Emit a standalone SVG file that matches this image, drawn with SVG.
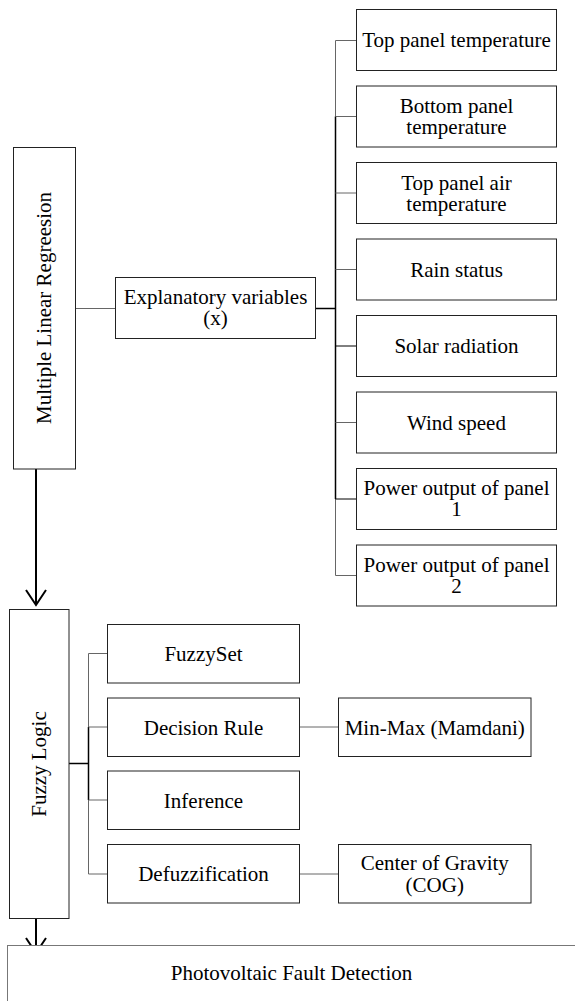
<svg xmlns="http://www.w3.org/2000/svg" width="575" height="1001" viewBox="0 0 575 1001">
<style>
.box{fill:#fff;stroke:#222;stroke-width:1}
.t{font-family:"Liberation Serif","Times New Roman",serif;font-size:21px;fill:#000;text-anchor:middle}
.c{fill:none;stroke:#666;stroke-width:1}
.k{fill:none;stroke:#000;stroke-width:1.5}
.a{fill:none;stroke:#000;stroke-width:2}
</style>
<rect width="575" height="1001" fill="#fff"/>
<g id="connectors">
<line class="c" x1="75.5" y1="308.5" x2="115.5" y2="308.5"/>
<line class="k" x1="315.5" y1="308.5" x2="336" y2="308.5"/>
<polyline class="c" points="356.5,40.5 335.5,40.5 335.5,575.5 356.5,575.5"/>
<line class="k" x1="335.5" y1="116.5" x2="335.5" y2="499"/>
<line class="c" x1="335.5" y1="116.5" x2="356.5" y2="116.5"/>
<line class="c" x1="335.5" y1="193" x2="356.5" y2="193"/>
<line class="c" x1="335.5" y1="269.5" x2="356.5" y2="269.5"/>
<line class="k" x1="335.5" y1="346" x2="356.5" y2="346" style="stroke-width:1"/>
<line class="c" x1="335.5" y1="422.5" x2="356.5" y2="422.5"/>
<line class="k" x1="335.5" y1="499" x2="356.5" y2="499" style="stroke-width:1"/>
<line class="k" x1="69" y1="763.5" x2="88.5" y2="763.5"/>
<polyline class="c" points="107.5,653.5 88.5,653.5 88.5,874 107.5,874"/>
<line class="k" x1="88.5" y1="727" x2="88.5" y2="800"/>
<line class="c" x1="88.5" y1="727" x2="107.5" y2="727"/>
<line class="c" x1="88.5" y1="800" x2="107.5" y2="800"/>
<line class="c" x1="299.5" y1="727" x2="338.5" y2="727"/>
<line class="c" x1="299.5" y1="874" x2="338.5" y2="874"/>
<line class="a" x1="36" y1="469" x2="36" y2="604"/>
<polyline class="a" points="26,590 36,605 46,590"/>
<line class="a" x1="36" y1="918.5" x2="36" y2="952"/>
<polyline class="a" points="26,938 36,953 46,938"/>
</g>
<g id="mlr">
<rect class="box" x="13.5" y="147.5" width="62" height="321.5"/>
<text class="t" transform="translate(50.5,308) rotate(-90)">Multiple Linear Regreesion</text>
</g>
<g id="explanatory">
<rect class="box" x="115.5" y="277.5" width="200" height="61"/>
<text class="t" x="215.5" y="303.5">Explanatory variables</text>
<text class="t" x="215.5" y="324.5">(x)</text>
</g>
<g id="v1"><rect class="box" x="356.5" y="9.5" width="200" height="61"/><text class="t" x="456.5" y="47">Top panel temperature</text></g>
<g id="v2"><rect class="box" x="356.5" y="86" width="200" height="61"/><text class="t" x="456.5" y="113">Bottom panel</text><text class="t" x="456.5" y="134">temperature</text></g>
<g id="v3"><rect class="box" x="356.5" y="162.5" width="200" height="61"/><text class="t" x="456.5" y="189.5">Top panel air</text><text class="t" x="456.5" y="210.5">temperature</text></g>
<g id="v4"><rect class="box" x="356.5" y="239" width="200" height="61"/><text class="t" x="456.5" y="276.5">Rain status</text></g>
<g id="v5"><rect class="box" x="356.5" y="315.5" width="200" height="61"/><text class="t" x="456.5" y="353">Solar radiation</text></g>
<g id="v6"><rect class="box" x="356.5" y="392" width="200" height="61"/><text class="t" x="456.5" y="429.5">Wind speed</text></g>
<g id="v7"><rect class="box" x="356.5" y="468.5" width="200" height="61"/><text class="t" x="456.5" y="495">Power output of panel</text><text class="t" x="456.5" y="516">1</text></g>
<g id="v8"><rect class="box" x="356.5" y="545" width="200" height="61"/><text class="t" x="456.5" y="571.5">Power output of panel</text><text class="t" x="456.5" y="592.5">2</text></g>
<g id="fuzzy">
<rect class="box" x="9.5" y="609.5" width="59.5" height="309"/>
<text class="t" transform="translate(45.5,764) rotate(-90)">Fuzzy Logic</text>
</g>
<g id="fuzzyset"><rect class="box" x="107.5" y="624.5" width="192" height="58.5"/><text class="t" x="203.5" y="661">FuzzySet</text></g>
<g id="decision"><rect class="box" x="107.5" y="698" width="192" height="58.5"/><text class="t" x="203.5" y="734.5">Decision Rule</text></g>
<g id="inference"><rect class="box" x="107.5" y="771" width="192" height="58.5"/><text class="t" x="203.5" y="807.5">Inference</text></g>
<g id="defuzz"><rect class="box" x="107.5" y="844.5" width="192" height="58.5"/><text class="t" x="203.5" y="881">Defuzzification</text></g>
<g id="minmax"><rect class="box" x="338.5" y="698" width="192.5" height="58.5"/><text class="t" x="434.75" y="734.5">Min-Max (Mamdani)</text></g>
<g id="cog"><rect class="box" x="338.5" y="844.5" width="192.5" height="58.5"/><text class="t" x="434.75" y="870">Center of Gravity</text><text class="t" x="434.75" y="891.5">(COG)</text></g>
<g id="pv">
<rect class="box" x="7.5" y="945.5" width="600" height="100" style="stroke:#777"/>
<text class="t" x="291.5" y="980">Photovoltaic Fault Detection</text>
</g>
</svg>
